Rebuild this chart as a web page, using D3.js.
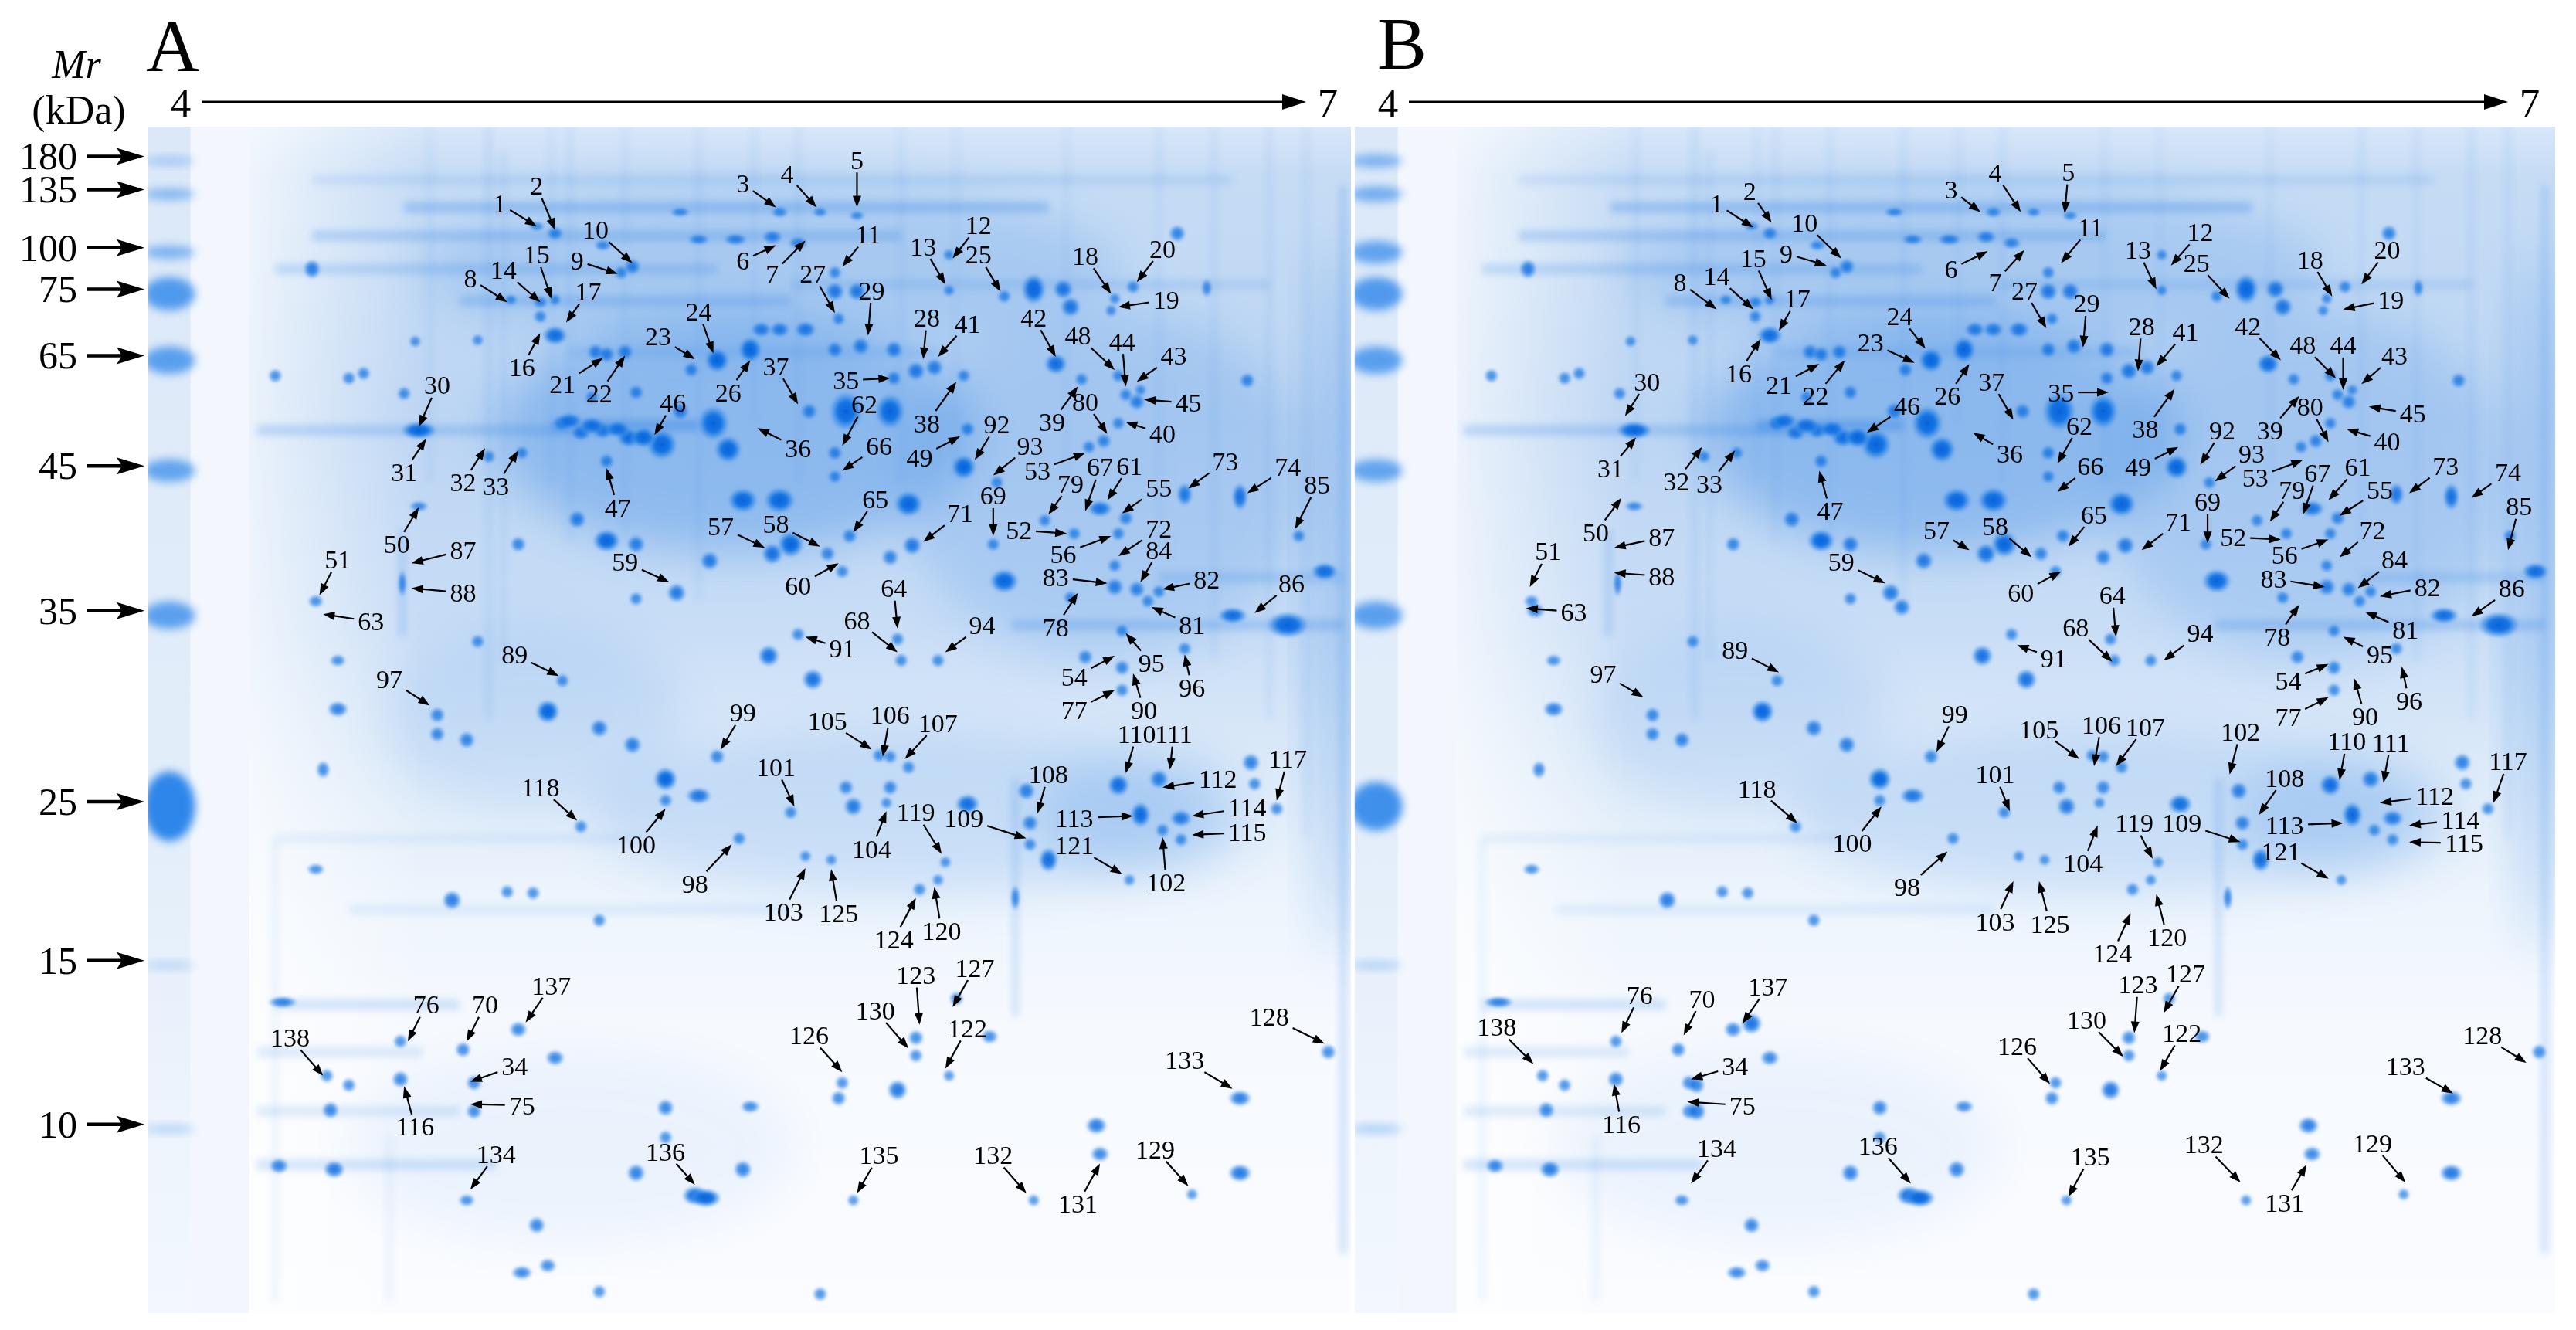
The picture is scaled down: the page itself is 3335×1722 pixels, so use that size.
<!DOCTYPE html>
<html><head><meta charset="utf-8">
<script src="https://cdn.jsdelivr.net/npm/d3@7"></script>
<style>html,body{margin:0;padding:0;background:#fff;}svg{display:block}</style>
</head><body>
<svg id="chart" width="3335" height="1722"></svg>
<script>
// ================= DATA =================
// Molecular-weight markers (kDa) and their relative mobility (Rf, 0 = gel top, 1 = gel bottom)
const markerMr = [180,135,100,75,65,45,35,25,15,10];
const markerRf = [0.025,0.053,0.102,0.137,0.193,0.286,0.408,0.569,0.703,0.841];
// marker lane band strength per gel
const ladderA = [0.35,0.5,0.55,0.8,0.75,0.7,0.75,1.0,0.25,0.3];
const ladderB = [0.55,0.6,0.7,0.8,0.75,0.7,0.75,0.9,0.3,0.35];
const pHEnds = [4,7];
const panelNames = ["A","B"];

// labels: [spot no., label pH, label Rf, arrow-tip pH, arrow-tip Rf]
const labelsA = [
[1,4.81,0.065,4.91,0.084],[2,4.91,0.050,4.96,0.087],[3,5.47,0.048,5.56,0.068],[4,5.59,0.040,5.67,0.068],
[5,5.78,0.028,5.78,0.068],[6,5.47,0.113,5.56,0.100],[7,5.55,0.124,5.64,0.096],[8,4.73,0.128,4.83,0.148],
[9,5.02,0.113,5.13,0.124],[10,5.07,0.087,5.17,0.115],[11,5.81,0.091,5.74,0.118],[12,6.11,0.083,6.04,0.111],
[13,5.96,0.101,6.02,0.133],[14,4.82,0.121,4.92,0.148],[15,4.91,0.108,4.95,0.145],[16,4.87,0.203,4.92,0.174],
[17,5.05,0.139,4.99,0.165],[18,6.40,0.109,6.47,0.141],[19,6.62,0.146,6.49,0.152],[20,6.61,0.103,6.54,0.131],
[21,4.98,0.217,5.09,0.195],[22,5.08,0.225,5.15,0.193],[23,5.24,0.177,5.34,0.196],[24,5.35,0.156,5.39,0.191],
[25,6.11,0.108,6.17,0.139],[26,5.43,0.224,5.49,0.197],[27,5.66,0.124,5.72,0.157],[28,5.97,0.161,5.96,0.196],
[29,5.82,0.138,5.81,0.176],[30,4.64,0.218,4.59,0.253],[31,4.55,0.291,4.61,0.263],[32,4.71,0.300,4.77,0.271],
[33,4.80,0.303,4.86,0.273],[34,4.85,0.792,4.73,0.805],[35,5.75,0.214,5.87,0.212],[36,5.62,0.271,5.51,0.254],
[37,5.56,0.202,5.62,0.234],[38,5.97,0.250,6.05,0.215],[39,6.31,0.249,6.38,0.219],[40,6.61,0.259,6.51,0.249],
[41,6.08,0.166,6.00,0.194],[42,6.26,0.161,6.32,0.194],[43,6.64,0.193,6.54,0.215],[44,6.50,0.181,6.51,0.219],
[45,6.68,0.233,6.56,0.230],[46,5.28,0.233,5.23,0.260],[47,5.13,0.321,5.10,0.288],[48,6.38,0.176,6.48,0.205],
[49,5.95,0.279,6.06,0.261],[50,4.53,0.352,4.59,0.321],[51,4.37,0.365,4.32,0.395],[52,6.22,0.340,6.35,0.343],
[53,6.27,0.290,6.40,0.275],[54,6.37,0.464,6.48,0.446],[55,6.60,0.304,6.50,0.326],[56,6.34,0.360,6.47,0.345],
[57,5.41,0.337,5.53,0.355],[58,5.56,0.335,5.68,0.354],[59,5.15,0.367,5.27,0.384],[60,5.62,0.387,5.73,0.368],
[61,6.52,0.286,6.46,0.315],[62,5.80,0.234,5.74,0.269],[63,4.46,0.417,4.33,0.411],[64,5.88,0.389,5.89,0.423],
[65,5.83,0.314,5.77,0.342],[66,5.84,0.269,5.74,0.290],[67,6.44,0.287,6.40,0.324],[68,5.78,0.416,5.89,0.443],
[69,6.15,0.311,6.15,0.345],[70,4.77,0.740,4.72,0.771],[71,6.06,0.326,5.96,0.350],[72,6.60,0.339,6.49,0.362],
[73,6.78,0.282,6.68,0.305],[74,6.95,0.287,6.84,0.309],[75,4.87,0.825,4.73,0.824],[76,4.61,0.740,4.56,0.771],
[77,6.37,0.492,6.48,0.475],[78,6.32,0.422,6.38,0.393],[79,6.36,0.301,6.30,0.327],[80,6.40,0.232,6.46,0.259],
[81,6.69,0.420,6.58,0.405],[82,6.73,0.382,6.61,0.390],[83,6.32,0.380,6.46,0.385],[84,6.60,0.357,6.55,0.384],
[85,7.03,0.302,6.97,0.339],[86,6.96,0.385,6.86,0.410],[87,4.71,0.357,4.57,0.368],[88,4.71,0.393,4.57,0.389],
[89,4.85,0.445,4.97,0.463],[90,6.56,0.492,6.53,0.461],[91,5.74,0.440,5.64,0.430],[92,6.16,0.251,6.10,0.281],
[93,6.25,0.269,6.15,0.294],[94,6.12,0.420,6.02,0.443],[95,6.58,0.452,6.51,0.427],[96,6.69,0.473,6.67,0.445],
[97,4.51,0.466,4.62,0.488],[98,5.34,0.638,5.44,0.605],[99,5.47,0.494,5.41,0.525],[100,5.18,0.605,5.26,0.575],
[101,5.56,0.540,5.61,0.573],[102,6.62,0.637,6.61,0.599],[103,5.58,0.662,5.64,0.625],[104,5.82,0.609,5.86,0.577],
[105,5.70,0.501,5.82,0.525],[106,5.87,0.496,5.85,0.531],[107,6.00,0.503,5.91,0.533],[108,6.30,0.546,6.27,0.579],
[109,6.07,0.583,6.24,0.600],[110,6.54,0.512,6.51,0.545],[111,6.64,0.512,6.63,0.542],[112,6.76,0.550,6.61,0.557],
[113,6.37,0.583,6.53,0.581],[114,6.84,0.574,6.69,0.581],[115,6.84,0.595,6.69,0.597],[116,4.58,0.843,4.55,0.809],
[117,6.95,0.533,6.92,0.568],[118,4.92,0.557,5.02,0.585],[119,5.94,0.578,6.01,0.613],[120,6.01,0.678,5.99,0.641],
[121,6.37,0.606,6.50,0.630],[122,6.08,0.760,6.02,0.794],[123,5.94,0.715,5.95,0.757],[124,5.88,0.685,5.94,0.650],
[125,5.73,0.663,5.71,0.626],[126,5.65,0.766,5.74,0.797],[127,6.10,0.709,6.04,0.742],[128,6.90,0.750,7.05,0.773],
[129,6.59,0.862,6.68,0.893],[130,5.83,0.745,5.92,0.777],[131,6.38,0.908,6.44,0.874],[132,6.15,0.867,6.24,0.899],
[133,6.67,0.787,6.80,0.811],[134,4.80,0.866,4.73,0.896],[135,5.84,0.867,5.78,0.899],[136,5.26,0.864,5.34,0.892],
[137,4.95,0.724,4.88,0.755],[138,4.24,0.768,4.33,0.800]
];
const labelsB = [
[1,4.84,0.065,4.94,0.085],[2,4.93,0.054,4.99,0.081],[3,5.48,0.053,5.56,0.072],[4,5.60,0.039,5.67,0.072],
[5,5.80,0.038,5.79,0.073],[6,5.48,0.120,5.58,0.105],[7,5.60,0.131,5.68,0.104],[8,4.74,0.131,4.84,0.154],
[9,5.03,0.107,5.14,0.117],[10,5.08,0.081,5.18,0.111],[11,5.86,0.085,5.78,0.115],[12,6.16,0.089,6.08,0.117],
[13,5.99,0.104,6.04,0.137],[14,4.84,0.126,4.94,0.154],[15,4.94,0.111,4.99,0.146],[16,4.90,0.208,4.96,0.179],
[17,5.06,0.145,5.01,0.172],[18,6.46,0.112,6.52,0.143],[19,6.68,0.146,6.55,0.154],[20,6.67,0.104,6.60,0.133],
[21,5.01,0.218,5.12,0.200],[22,5.11,0.227,5.19,0.197],[23,5.26,0.182,5.38,0.199],[24,5.34,0.160,5.41,0.187],
[25,6.15,0.115,6.24,0.145],[26,5.47,0.227,5.53,0.200],[27,5.68,0.138,5.74,0.170],[28,6.00,0.168,5.99,0.206],
[29,5.85,0.149,5.84,0.186],[30,4.65,0.215,4.59,0.244],[31,4.55,0.288,4.62,0.262],[32,4.73,0.299,4.80,0.270],
[33,4.82,0.301,4.89,0.273],[34,4.89,0.792,4.77,0.803],[35,5.78,0.224,5.91,0.224],[36,5.64,0.276,5.54,0.258],
[37,5.59,0.215,5.65,0.247],[38,6.01,0.255,6.09,0.221],[39,6.35,0.256,6.43,0.227],[40,6.67,0.265,6.56,0.255],
[41,6.12,0.173,6.04,0.202],[42,6.29,0.168,6.38,0.197],[43,6.69,0.193,6.60,0.217],[44,6.55,0.184,6.55,0.222],
[45,6.74,0.242,6.62,0.236],[46,5.36,0.235,5.25,0.258],[47,5.15,0.324,5.12,0.290],[48,6.44,0.184,6.53,0.212],
[49,5.99,0.287,6.10,0.270],[50,4.51,0.342,4.58,0.313],[51,4.38,0.358,4.33,0.388],[52,6.25,0.346,6.38,0.348],
[53,6.31,0.296,6.44,0.281],[54,6.40,0.467,6.51,0.453],[55,6.65,0.306,6.54,0.328],[56,6.39,0.361,6.51,0.348],
[57,5.44,0.340,5.53,0.357],[58,5.60,0.337,5.70,0.363],[59,5.18,0.367,5.30,0.385],[60,5.67,0.393,5.78,0.375],
[61,6.59,0.287,6.51,0.315],[62,5.83,0.252,5.77,0.284],[63,4.45,0.409,4.32,0.406],[64,5.92,0.395,5.93,0.430],
[65,5.87,0.327,5.80,0.354],[66,5.86,0.286,5.77,0.308],[67,6.48,0.292,6.44,0.327],[68,5.82,0.422,5.92,0.451],
[69,6.18,0.316,6.18,0.351],[70,4.80,0.735,4.75,0.766],[71,6.10,0.333,6.00,0.357],[72,6.63,0.340,6.54,0.363],
[73,6.83,0.286,6.73,0.309],[74,7.00,0.291,6.90,0.313],[75,4.91,0.825,4.76,0.822],[76,4.63,0.732,4.58,0.764],
[77,6.40,0.498,6.51,0.481],[78,6.37,0.430,6.43,0.403],[79,6.41,0.306,6.35,0.333],[80,6.46,0.236,6.51,0.266],
[81,6.72,0.424,6.61,0.409],[82,6.78,0.388,6.65,0.396],[83,6.36,0.381,6.50,0.388],[84,6.69,0.365,6.59,0.389],
[85,7.03,0.320,7.00,0.357],[86,7.01,0.389,6.90,0.413],[87,4.69,0.346,4.56,0.355],[88,4.69,0.379,4.56,0.376],
[89,4.89,0.441,5.01,0.460],[90,6.61,0.497,6.58,0.465],[91,5.76,0.448,5.66,0.437],[92,6.22,0.256,6.16,0.285],
[93,6.30,0.276,6.20,0.299],[94,6.16,0.427,6.06,0.450],[95,6.65,0.445,6.55,0.430],[96,6.73,0.484,6.71,0.455],
[97,4.53,0.461,4.64,0.481],[98,5.36,0.641,5.47,0.611],[99,5.49,0.495,5.44,0.527],[100,5.21,0.604,5.29,0.573],
[101,5.60,0.546,5.64,0.577],[102,6.27,0.510,6.24,0.546],[103,5.60,0.670,5.65,0.636],[104,5.84,0.621,5.88,0.589],
[105,5.72,0.508,5.83,0.533],[106,5.89,0.504,5.87,0.539],[107,6.01,0.506,5.93,0.539],[108,6.39,0.549,6.32,0.580],
[109,6.11,0.587,6.27,0.603],[110,6.56,0.518,6.54,0.551],[111,6.68,0.519,6.66,0.553],[112,6.80,0.564,6.65,0.570],
[113,6.39,0.589,6.55,0.587],[114,6.87,0.584,6.73,0.589],[115,6.88,0.604,6.73,0.603],[116,4.58,0.841,4.56,0.807],
[117,7.00,0.535,6.96,0.570],[118,4.95,0.558,5.06,0.587],[119,5.98,0.587,6.03,0.617],[120,6.07,0.683,6.04,0.647],
[121,6.38,0.611,6.51,0.634],[122,6.11,0.764,6.05,0.796],[123,5.99,0.723,5.98,0.764],[124,5.92,0.697,5.97,0.663],
[125,5.75,0.672,5.72,0.636],[126,5.66,0.775,5.75,0.807],[127,6.12,0.714,6.06,0.747],[128,6.93,0.766,7.05,0.789],
[129,6.63,0.857,6.72,0.890],[130,5.85,0.753,5.95,0.784],[131,6.39,0.907,6.45,0.875],[132,6.17,0.858,6.27,0.890],
[133,6.72,0.792,6.85,0.815],[134,4.84,0.861,4.77,0.891],[135,5.86,0.868,5.80,0.902],[136,5.28,0.859,5.37,0.891],
[137,4.98,0.725,4.91,0.756],[138,4.24,0.759,4.34,0.790]
];

// protein spots: [pI (pH), Rf, spot volume (relative), width/height ratio]
const spots = [
[4.30,0.120,6,0.9],[4.91,0.084,2,1.6],[4.96,0.090,4,1.2],[5.09,0.100,3,1.5],[5.14,0.123,3,1],[5.17,0.118,5,1],
[4.84,0.146,2,1.2],[4.92,0.148,3,1.2],[4.96,0.146,2,1],[4.92,0.160,3,1],[4.96,0.176,10,1.3],
[5.07,0.190,5,1],[5.10,0.192,5,1],[5.15,0.190,5,1],[5.06,0.228,3,1],[5.18,0.224,4,1],
[5.30,0.072,3,2],[5.35,0.095,4,2],[5.45,0.095,5,2],[5.55,0.093,5,1.5],[5.62,0.098,4,1.5],
[5.57,0.072,3,1.5],[5.68,0.072,2,1.5],[5.78,0.075,2,1.5],[5.72,0.123,3,1],[5.73,0.162,3,1],
[6.03,0.138,2,1],[6.03,0.108,2,1],[6.18,0.143,3,1],[6.48,0.145,2,1],[6.53,0.135,3,1],[6.47,0.155,2,1],
[6.26,0.137,18,0.8],[6.34,0.137,8,1],[6.36,0.152,8,1],[6.65,0.090,5,1],[6.73,0.136,3,0.6],
[4.98,0.250,6,1.2],[5.03,0.258,6,1.2],[5.09,0.256,7,1.2],[5.16,0.262,10,1.2],[5.25,0.268,25,1],[5.30,0.240,6,1],
[5.00,0.248,8,1.5],[5.06,0.252,9,1.5],[5.13,0.255,9,1.5],[5.20,0.262,12,1.2],
[5.40,0.197,14,1],[5.39,0.250,30,0.9],[5.43,0.272,18,1],[5.49,0.188,14,0.9],[5.52,0.171,6,1.3],[5.57,0.171,6,1.3],[5.64,0.171,7,1.3],
[5.72,0.139,7,1],[5.78,0.139,7,1],[5.72,0.188,5,1],[5.79,0.185,6,1],[5.88,0.188,6,1],[5.94,0.206,7,1],[5.99,0.203,6,1],
[5.75,0.240,36,0.85],[5.87,0.240,28,0.85],[5.65,0.240,5,1],[6.07,0.287,14,1],[5.92,0.318,18,1.1],[5.47,0.315,18,1.2],[5.57,0.315,20,1.2],
[5.60,0.352,16,1],[5.55,0.360,9,1],[5.38,0.366,7,1],[5.93,0.353,7,1],[5.87,0.363,5,1],[6.18,0.383,16,1.2],
[6.44,0.322,8,1.5],[6.48,0.388,6,1],[6.54,0.390,5,1],[6.67,0.310,7,0.7],[6.82,0.312,9,0.6],[6.84,0.214,4,1],
[6.95,0.420,28,1.6],[6.80,0.412,10,1.8],[7.05,0.375,10,1.5],[5.54,0.446,9,1],[5.66,0.466,9,1],[6.40,0.447,4,1],[6.50,0.456,4,1],
[6.32,0.200,10,1.1],[5.33,0.205,4,1],
[6.49,0.210,3,1],[6.51,0.226,3,1],[6.55,0.222,2,1],[6.54,0.232,5,1],[6.49,0.250,3,1],[6.45,0.265,4,1],[6.39,0.213,3,1],
[5.88,0.212,4,1],[6.07,0.210,3,1],[5.72,0.275,4,1],[5.72,0.295,3,1],[6.08,0.255,4,1],[6.16,0.300,3,1],[6.41,0.270,3,1],
[6.29,0.332,3,1],[6.51,0.330,4,1],[6.98,0.345,3,1],[6.15,0.352,3,1],[6.37,0.343,3,1],[5.76,0.345,4,1],[5.70,0.360,4,1],
[5.74,0.375,3,1],[6.48,0.370,3,1],[6.49,0.343,3,1],[6.60,0.392,3,1],[5.89,0.432,3,1],[5.90,0.450,3,1],[5.62,0.428,3,1],
[6.00,0.450,3,1],[6.36,0.397,3,1],[6.57,0.400,3,1],[6.50,0.425,3,1],[6.67,0.440,3,1],[6.50,0.475,3,1],[5.10,0.282,4,1],
[4.78,0.278,3,1],[4.87,0.275,3,1],
[4.20,0.210,3,1],[4.40,0.212,3,1],[4.44,0.208,3,1],[4.55,0.225,3,1],[4.58,0.181,2,1],[4.75,0.180,2,1],
[4.59,0.256,14,2.0],[4.59,0.320,3,1.8],[4.545,0.385,4,0.35],[4.31,0.400,3,1.2],[4.86,0.352,4,1],[5.02,0.331,6,1],[5.10,0.349,14,1.2],[5.18,0.352,6,1],
[5.29,0.393,7,1],[5.18,0.398,3,1],[4.75,0.434,3,1],[4.94,0.493,12,1],[4.98,0.467,3,1],[4.37,0.491,6,1.3],[4.37,0.450,3,1.3],
[4.64,0.496,4,1],[4.64,0.512,4,1],[4.72,0.517,5,1],[5.08,0.507,6,1],[5.17,0.521,6,1],[5.26,0.550,12,1],[5.26,0.568,3,1],[4.33,0.542,4,0.8],
[4.68,0.652,7,1],[4.83,0.645,3,1],[4.90,0.646,3,1],[5.08,0.669,3,1],[4.31,0.626,3,1.5],[5.03,0.590,3,1],
[4.22,0.738,6,2.5],[4.86,0.761,5,1.1],[4.71,0.778,4,1],[4.96,0.785,5,1.2],[4.54,0.803,5,1],[4.54,0.771,3,1],[4.74,0.806,4,1],[4.74,0.830,4,1],
[4.35,0.829,5,1],[4.34,0.800,3,1],[4.40,0.808,3,1],[4.21,0.876,5,1.2],[4.36,0.879,7,1.2],[4.72,0.905,3,1.3],
[5.26,0.827,5,1],[5.18,0.882,6,1],[5.26,0.852,3,1],[5.34,0.901,10,1.3],[4.91,0.926,5,1],[4.87,0.966,5,1.5],[4.94,0.960,4,1.2],[5.08,0.982,3,1],
[5.35,0.564,8,1.5],[5.40,0.531,4,1],[5.46,0.600,3,1],[5.60,0.578,3,1],[5.64,0.615,2,1],[5.71,0.618,2,1],[5.75,0.557,4,1],[5.77,0.573,7,1],
[5.84,0.530,3,1],[5.87,0.531,3,1],[5.87,0.557,4,1],[5.86,0.570,2,1],[5.92,0.540,3,1],[5.95,0.643,3,1],[6.00,0.635,2,1],[6.02,0.620,2,1],
[6.08,0.571,10,1.2],[6.24,0.560,6,1],[6.25,0.587,5,1],[6.25,0.605,3,1],[6.30,0.618,10,0.8],[6.21,0.650,4,0.4],
[6.49,0.555,10,1],[6.60,0.550,7,1],[6.55,0.580,11,0.8],[6.66,0.583,7,1.3],[6.66,0.601,3,1],[6.61,0.593,3,1],[6.52,0.635,2,1],
[6.85,0.536,6,1],[6.86,0.554,3,1],[6.92,0.575,3,1],
[5.89,0.812,8,1],[5.94,0.783,3,1],[5.94,0.768,4,1],[6.14,0.767,4,1.2],[6.05,0.735,3,1],[6.03,0.800,2,1],[5.74,0.806,3,1],[5.73,0.819,4,1],
[5.49,0.826,4,1.5],[5.47,0.879,6,1],[5.37,0.903,12,1.6],[5.77,0.905,2,1],[6.26,0.905,2,1],
[6.43,0.842,7,1.2],[6.44,0.866,5,1.2],[6.69,0.900,2,1],[6.82,0.819,7,1.4],[6.82,0.882,8,1.3],[7.06,0.780,4,1],[5.68,0.984,3,1]
];
// spots that are clearly stronger in gel B
const spotsBExtra = [[4.91,0.756,9,1],[4.76,0.808,5,1],[4.76,0.830,7,1],[4.32,0.408,5,1.2],[5.32,0.405,6,1]];
// pH calibration offset of gel B relative to gel A
const pHShiftB = 0.025;

// horizontal streaks: [pH from, pH to, Rf, strength]
const streaksH = [
[4.55,6.3,0.068,0.3],[4.3,5.9,0.092,0.25],[4.2,5.4,0.120,0.22],[4.7,5.6,0.147,0.25],[5.6,6.9,0.133,0.15],
[4.15,5.1,0.256,0.25],[4.95,5.35,0.252,0.45],[5.0,6.0,0.19,0.15],[4.2,4.7,0.74,0.2],[4.15,4.6,0.78,0.15],[4.15,4.7,0.83,0.15],
[4.15,4.8,0.875,0.2],[4.2,5.2,0.60,0.08],[6.2,7.1,0.42,0.25],[6.6,7.1,0.38,0.2],[4.3,6.8,0.045,0.12],[4.4,5.6,0.66,0.1]
];
// vertical streaks: [pH, Rf from, Rf to, strength]
const streaksV = [
[4.78,0.0,0.5,0.1],[4.82,0.02,0.45,0.08],[5.0,0.0,0.35,0.07],[5.35,0.0,0.40,0.07],[5.62,0.0,0.3,0.07],
[6.21,0.55,0.75,0.18],[6.6,0.0,0.35,0.07],[6.9,0.0,0.5,0.08],[4.545,0.34,0.43,0.2],[4.2,0.6,0.99,0.07],
[4.51,0.85,0.99,0.07],[7.1,0.05,0.95,0.2],[4.62,0,0.3,0.06],[4.95,0,0.3,0.06],[5.15,0,0.35,0.06],
[5.5,0,0.25,0.06],[5.9,0,0.3,0.06],[6.05,0,0.3,0.05],[6.35,0,0.3,0.06],[6.75,0,0.45,0.07],[7.0,0,0.6,0.07]
];
// diffuse stained areas: [pH, Rf, spread pH, spread Rf, strength]
const clouds = [
[5.45,0.26,0.65,0.10,0.42],[5.55,0.12,0.95,0.07,0.22],[6.45,0.30,0.55,0.15,0.22],[5.9,0.58,0.85,0.07,0.18],
[6.55,0.58,0.3,0.05,0.22],[7.08,0.40,0.06,0.30,0.32],[4.9,0.5,0.4,0.08,0.13],[5.0,0.86,0.6,0.08,0.07]
];

// ================= LAYOUT / DRAWING =================
const svg = d3.select("#chart");
const defs = svg.append("defs");
const serif = "'Liberation Serif','Times New Roman',Times,serif";

function blur(id, s){
  defs.append("filter").attr("id",id).attr("x","-60%").attr("y","-60%").attr("width","220%").attr("height","220%")
    .append("feGaussianBlur").attr("stdDeviation",s);
}
blur("bBig",30); blur("bMid",6); blur("bSm",1.8); blur("bLine",5);

const rg = defs.append("radialGradient").attr("id","spotG");
[[0,"#0562da",1],[0.45,"#0b6fe2",0.95],[0.75,"#3b8de8",0.55],[1,"#7ab2f0",0]]
  .forEach(s=>rg.append("stop").attr("offset",s[0]).attr("stop-color",s[1]).attr("stop-opacity",s[2]));

const bgStops = [[0,"#d8e7f9"],[0.04,"#c6dcf5"],[0.25,"#bcd5f3"],[0.42,"#c8ddf6"],[0.5,"#d6e6f8"],
  [0.58,"#e3eefa"],[0.66,"#eef5fd"],[0.76,"#f6f9fe"],[1,"#fafcff"]];
const bg = defs.append("linearGradient").attr("id","bgG").attr("x1",0).attr("y1",0).attr("x2",0).attr("y2",1);
bgStops.forEach(s=>bg.append("stop").attr("offset",s[0]).attr("stop-color",s[1]));
const lf = defs.append("linearGradient").attr("id","leftFade").attr("x1",0).attr("y1",0).attr("x2",1).attr("y2",0);
lf.append("stop").attr("offset",0).attr("stop-color","#fff").attr("stop-opacity",0.7);
lf.append("stop").attr("offset",1).attr("stop-color","#fff").attr("stop-opacity",0);
const lad = defs.append("linearGradient").attr("id","ladG").attr("x1",0).attr("y1",0).attr("x2",0).attr("y2",1);
[[0,"#dbe8f8"],[0.6,"#e3eefa"],[1,"#f3f8fe"]].forEach(s=>lad.append("stop").attr("offset",s[0]).attr("stop-color",s[1]));

const yRf = d3.scaleLinear([0,1],[164,1700]);
const panels = [
  {name:panelNames[0], x:d3.scaleLinear(pHEnds,[261,1691]), gel:[3.855,7.122], labels:labelsA, ladder:ladderA,
   shift:0, extra:[], letter:[189,92], endY:151, mr:true},
  {name:panelNames[1], x:d3.scaleLinear(pHEnds,[1824,3247]), gel:[3.852,7.129], labels:labelsB, ladder:ladderB,
   shift:pHShiftB, extra:spotsBExtra, letter:[1783,89], endY:152, mr:false}
];
const spotR = v => 4 + 3.5*Math.sqrt(v);
const fs = 34;

panels.forEach(p=>{
  const x = p.x;
  const g = svg.append("g");
  const gx0 = x(p.gel[0]), gx1 = x(p.gel[1]), gy0 = yRf(0), gy1 = yRf(1);
  const cid = "clip"+p.name;
  defs.append("clipPath").attr("id",cid).append("rect").attr("x",gx0).attr("y",gy0).attr("width",gx1-gx0).attr("height",gy1-gy0);
  const gel = g.append("g").attr("clip-path",`url(#${cid})`);

  gel.append("rect").attr("x",x(4.13)).attr("y",gy0).attr("width",gx1-x(4.13)).attr("height",gy1-gy0).attr("fill","url(#bgG)");
  gel.append("rect").attr("x",x(4.13)).attr("y",gy0).attr("width",x(4.6)-x(4.13)).attr("height",gy1-gy0).attr("fill","url(#leftFade)");
  gel.append("rect").attr("x",x(3.97)).attr("y",gy0).attr("width",x(4.13)-x(3.97)).attr("height",gy1-gy0).attr("fill","#f3f7fd");
  gel.append("rect").attr("x",gx0).attr("y",gy0).attr("width",x(3.97)-gx0).attr("height",gy1-gy0).attr("fill","url(#ladG)");
  const lcx = (gx0 + x(3.97))/2, lw = (x(3.97)-gx0)/2;
  gel.append("g").selectAll("ellipse").data(markerRf).join("ellipse")
    .attr("cx",lcx).attr("cy",d=>yRf(d)+6).attr("rx",lw+6)
    .attr("ry",(d,i)=>5+40*Math.pow(p.ladder[i],4))
    .attr("fill","#2f86ea").attr("opacity",(d,i)=>p.ladder[i]).attr("filter","url(#bMid)");

  gel.append("g").selectAll("ellipse").data(clouds).join("ellipse")
    .attr("cx",d=>x(d[0])).attr("cy",d=>yRf(d[1]))
    .attr("rx",d=>x(d[0]+d[2])-x(d[0])).attr("ry",d=>yRf(d[3])-yRf(0))
    .attr("fill","#4a92e6").attr("opacity",d=>d[4]).attr("filter","url(#bBig)");
  gel.append("g").selectAll("rect").data(streaksH).join("rect")
    .attr("x",d=>x(d[0])).attr("width",d=>x(d[1])-x(d[0])).attr("y",d=>yRf(d[2])-7).attr("height",14)
    .attr("fill","#3a88e6").attr("opacity",d=>d[3]).attr("filter","url(#bLine)");
  gel.append("g").selectAll("rect").data(streaksV).join("rect")
    .attr("x",d=>x(d[0])-5).attr("width",10).attr("y",d=>yRf(d[1])).attr("height",d=>yRf(d[2])-yRf(d[1]))
    .attr("fill","#3a88e6").attr("opacity",d=>d[3]).attr("filter","url(#bLine)");
  gel.append("g").attr("filter","url(#bSm)").selectAll("ellipse").data(spots.concat(p.extra)).join("ellipse")
    .attr("cx",d=>x(d[0]+p.shift)).attr("cy",d=>yRf(d[1]))
    .attr("rx",d=>spotR(d[2])*Math.sqrt(d[3])).attr("ry",d=>spotR(d[2])/Math.sqrt(d[3]))
    .attr("fill","url(#spotG)").attr("opacity",d=>0.55+0.45*Math.min(1,d[2]/12));

  // pH axis arrow
  const ay = 132;
  g.append("line").attr("x1",x(pHEnds[0])).attr("x2",x(pHEnds[1])-26).attr("y1",ay).attr("y2",ay)
    .attr("stroke","#000").attr("stroke-width",3);
  g.append("polygon").attr("points",[[x(pHEnds[1]),ay],[x(pHEnds[1])-31,ay-10],[x(pHEnds[1])-31,ay+10]].join(" ")).attr("fill","#000");
  g.append("text").attr("x",x(pHEnds[0])-27).attr("y",p.endY).attr("text-anchor","middle")
    .attr("font-family",serif).attr("font-size",53).text(pHEnds[0]);
  g.append("text").attr("x",x(pHEnds[1])+28).attr("y",p.endY).attr("text-anchor","middle")
    .attr("font-family",serif).attr("font-size",53).text(pHEnds[1]);
  g.append("text").attr("x",p.letter[0]).attr("y",p.letter[1]).attr("font-family",serif).attr("font-size",96).text(p.name);

  const lab = g.append("g");
  p.labels.forEach(([id,tp,tr,ap,ar])=>{
    const cx = x(tp), cy = yRf(tr), tx = x(ap), ty = yRf(ar);
    const n = String(id).length;
    const hw = n*fs*0.25 + 3, hh = fs*0.36 + 2;
    const dx = tx-cx, dy = ty-cy, L = Math.hypot(dx,dy), ux = dx/L, uy = dy/L;
    const t = Math.min(Math.abs(ux)>1e-6 ? hw/Math.abs(ux) : 1e9, Math.abs(uy)>1e-6 ? hh/Math.abs(uy) : 1e9);
    const sx = cx+ux*(t+2), sy = cy+uy*(t+2);
    const hl = 15, hwd = 5.5;
    const bx = tx-ux*hl, by = ty-uy*hl;
    if ((bx-sx)*ux + (by-sy)*uy > 0)
      lab.append("line").attr("x1",sx).attr("y1",sy).attr("x2",bx+ux*2).attr("y2",by+uy*2)
        .attr("stroke","#000").attr("stroke-width",2.2);
    lab.append("polygon").attr("points",[[tx,ty],[bx-uy*hwd,by+ux*hwd],[bx+uy*hwd,by-ux*hwd]].join(" ")).attr("fill","#000");
    lab.append("text").attr("x",cx).attr("y",cy+fs*0.34).attr("text-anchor","middle")
      .attr("font-family",serif).attr("font-size",fs).attr("fill","#000").text(id);
  });

  if (p.mr){
    const m = svg.append("g");
    m.append("text").attr("x",99).attr("y",101).attr("text-anchor","middle").attr("font-family",serif)
      .attr("font-style","italic").attr("font-size",52).text("Mr");
    m.append("text").attr("x",102).attr("y",160).attr("text-anchor","middle").attr("font-family",serif)
      .attr("font-size",52).text("(kDa)");
    markerMr.forEach((mr,i)=>{
      const yy = yRf(markerRf[i]);
      m.append("text").attr("x",100).attr("y",yy+17).attr("text-anchor","end").attr("font-family",serif)
        .attr("font-size",50).text(mr);
      m.append("line").attr("x1",112).attr("x2",160).attr("y1",yy).attr("y2",yy).attr("stroke","#000").attr("stroke-width",4.5);
      m.append("polygon").attr("points",[[187,yy],[151,yy-11],[158,yy],[151,yy+11]].join(" ")).attr("fill","#000");
    });
  }
});
</script>
</body></html>
